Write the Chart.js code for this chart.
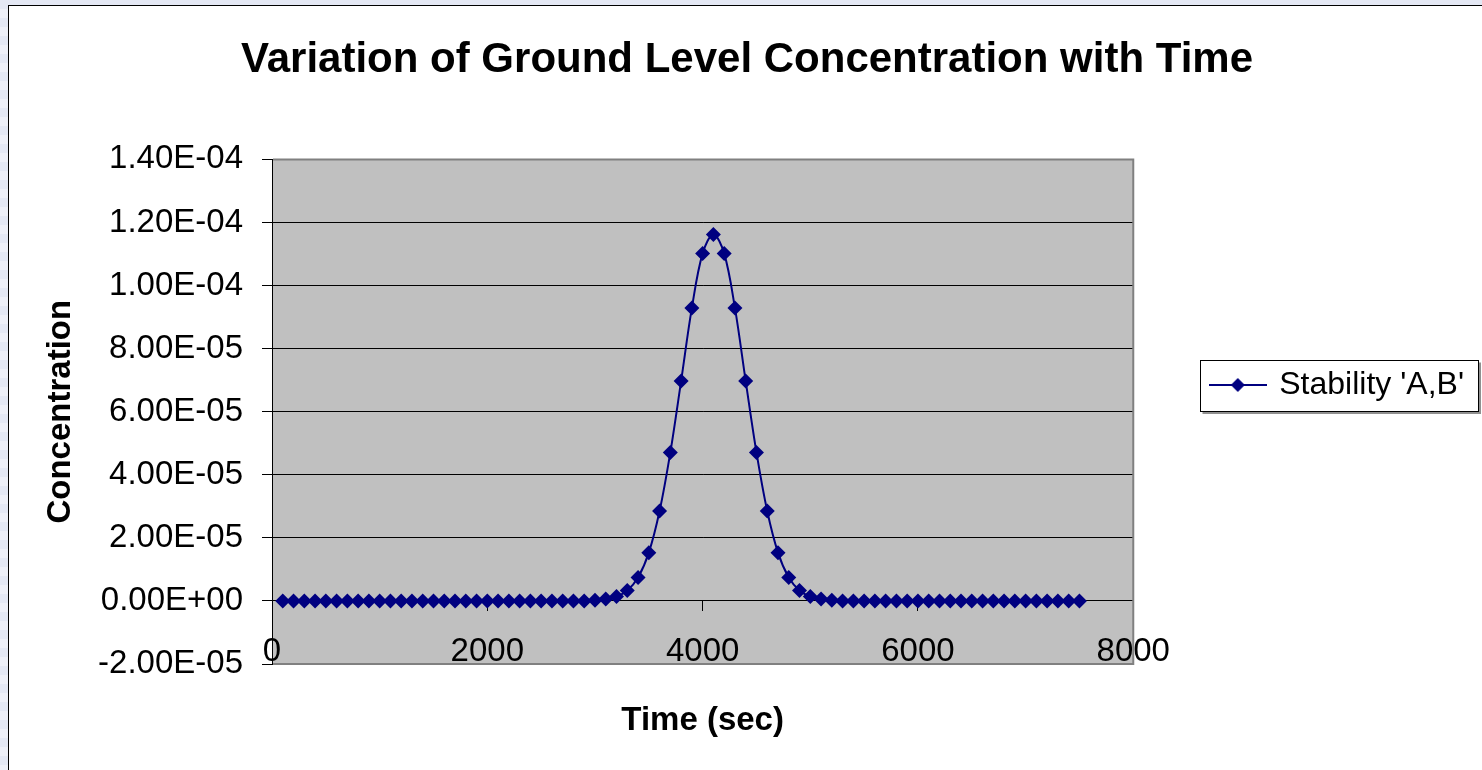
<!DOCTYPE html>
<html>
<head>
<meta charset="utf-8">
<title>Ground level concentration</title>
<script src="https://cdn.jsdelivr.net/npm/chart.js@4.4.1/dist/chart.umd.min.js"></script>
<style>
  html, body { margin: 0; padding: 0; }
  body {
    width: 1482px; height: 770px; overflow: hidden; position: relative;
    background: repeating-linear-gradient(180deg, #e4e8f4 0px, #e4e8f4 9px, #eef0f8 9px, #eef0f8 18px);
  }
  #frame {
    position: absolute; left: 8px; top: 5px; width: 1500px; height: 800px;
    background: #fff; border: 1px solid #000;
  }
  #grafico { position: absolute; left: 0; top: 0; }
</style>
</head>
<body>
<div id="frame"></div>
<canvas id="grafico" width="1482" height="770"></canvas>
<script>
// ======= DADOS =======
const tempos = [
  100, 200, 300, 400, 500, 600, 700, 800, 900, 1000,
  1100, 1200, 1300, 1400, 1500, 1600, 1700, 1800, 1900, 2000,
  2100, 2200, 2300, 2400, 2500, 2600, 2700, 2800, 2900, 3000,
  3100, 3200, 3300, 3400, 3500, 3600, 3700, 3800, 3900, 4000,
  4100, 4200, 4300, 4400, 4500, 4600, 4700, 4800, 4900, 5000,
  5100, 5200, 5300, 5400, 5500, 5600, 5700, 5800, 5900, 6000,
  6100, 6200, 6300, 6400, 6500, 6600, 6700, 6800, 6900, 7000,
  7100, 7200, 7300, 7400, 7500
];

const concentracao = [
  0, 0, 0, 0, 0, 0, 0, 0, 0, 0,
  0, 0, 0, 0, 0, 0, 0, 0, 0, 0,
  0, 0, 0, 0, 0, 0, 0, 0, 0, 2e-7,
  6e-7, 1.4e-6, 3.3e-6, 7.4e-6, 1.53e-5, 2.85e-5, 4.71e-5, 6.97e-5, 9.29e-5, 1.102e-4,
  1.162e-4, 1.102e-4, 9.29e-5, 6.97e-5, 4.71e-5, 2.85e-5, 1.53e-5, 7.4e-6, 3.3e-6, 1.4e-6,
  6e-7, 2e-7, 0, 0, 0, 0, 0, 0, 0, 0,
  0, 0, 0, 0, 0, 0, 0, 0, 0, 0,
  0, 0, 0, 0, 0
];

const ticksX = [0, 2000, 4000, 6000, 8000];
const ticksY = [-2e-5, 0, 2e-5, 4e-5, 6e-5, 8e-5, 1e-4, 1.2e-4, 1.4e-4];

const titulo = "Variation of Ground Level Concentration with Time";
const serie = "Stability 'A,B'";
const AZUL = "#000080";

Chart.defaults.font.family = "'Liberation Sans', Arial, sans-serif";
Chart.defaults.color = "#000";

// formato 1.40E-04 como no Excel
function formatoCientifico(v) {
  if (Math.abs(v) < 1e-12) v = 0;
  const [m, e] = v.toExponential(2).split("e");
  const n = parseInt(e, 10);
  return m + "E" + (n < 0 ? "-" : "+") + String(Math.abs(n)).padStart(2, "0");
}

// simbolo da legenda: linha com losango
const simbolo = document.createElement("canvas");
simbolo.width = 58;
simbolo.height = 18;
(() => {
  const c = simbolo.getContext("2d");
  c.strokeStyle = AZUL;
  c.lineWidth = 2;
  c.beginPath();
  c.moveTo(0, 9);
  c.lineTo(58, 9);
  c.stroke();
  c.fillStyle = AZUL;
  c.beginPath();
  c.moveTo(29, 2); c.lineTo(36, 9); c.lineTo(29, 16); c.lineTo(22, 9);
  c.closePath();
  c.fill();
})();

// fundo cinza e moldura da area do grafico, caixa da legenda
const molduras = {
  id: "molduras",
  beforeDraw(chart) {
    const { ctx, chartArea: a } = chart;
    ctx.save();
    ctx.fillStyle = "#c0c0c0";
    ctx.fillRect(a.left, a.top, a.right - a.left, a.bottom - a.top);
    ctx.restore();
  },
  beforeDatasetsDraw(chart) {
    const { ctx, chartArea: a } = chart;
    ctx.save();
    ctx.strokeStyle = "#808080";
    ctx.lineWidth = 2;
    ctx.beginPath();
    ctx.moveTo(a.left + 1, a.top);
    ctx.lineTo(a.right, a.top);
    ctx.lineTo(a.right, a.bottom);
    ctx.lineTo(a.left + 1, a.bottom);
    ctx.stroke();
    ctx.restore();
  },
  afterDraw(chart) {
    const hb = chart.legend && chart.legend.legendHitBoxes[0];
    if (!hb) return;
    const { ctx } = chart;
    const x0 = Math.round(hb.left - 12) + 0.5;
    const x1 = Math.round(hb.left + hb.width + 14) + 0.5;
    const cy = hb.top + hb.height / 2;
    const y0 = Math.round(cy - 25.5) + 0.5;
    const y1 = Math.round(cy + 25.5) + 0.5;
    ctx.save();
    ctx.strokeStyle = "#909090";
    ctx.lineWidth = 2;
    ctx.beginPath();
    ctx.moveTo(x1 + 1.5, y0 + 2);
    ctx.lineTo(x1 + 1.5, y1 + 1.5);
    ctx.lineTo(x0 + 2, y1 + 1.5);
    ctx.stroke();
    ctx.strokeStyle = "#000";
    ctx.lineWidth = 1;
    ctx.strokeRect(x0, y0, x1 - x0, y1 - y0);
    ctx.restore();
  }
};

const grafico = new Chart(document.getElementById("grafico"), {
  type: "line",
  data: {
    datasets: [{
      label: serie,
      data: tempos.map((t, i) => ({ x: t, y: concentracao[i] })),
      borderColor: AZUL,
      backgroundColor: AZUL,
      borderWidth: 2,
      tension: 0.35,
      pointStyle: "rectRot",
      pointRadius: 7.5,
      pointBorderWidth: 0,
      fill: false
    }]
  },
  options: {
    responsive: false,
    animation: false,
    devicePixelRatio: 1,
    layout: { padding: { left: 20, right: 8, top: 0, bottom: 0 } },
    plugins: {
      title: {
        display: true,
        text: titulo,
        font: { size: 42, weight: "bold" },
        padding: { top: 35, bottom: 74 }
      },
      legend: {
        position: "right",
        align: "center",
        labels: {
          usePointStyle: true,
          pointStyle: simbolo,
          pointStyleWidth: 51,
          padding: 79,
          font: { size: 32 }
        }
      },
      tooltip: { enabled: false }
    },
    scales: {
      x: {
        type: "linear",
        position: { y: 0 },
        min: 0,
        max: 8000,
        afterBuildTicks: s => { s.ticks = ticksX.map(v => ({ value: v })); },
        ticks: { font: { size: 33 }, padding: 21, maxRotation: 0, autoSkip: false, callback: v => String(v) },
        grid: { drawOnChartArea: false, drawTicks: true, tickLength: 10, color: "#000" },
        border: { color: "#000", width: 1 }
      },
      xTitulo: {
        type: "linear",
        axis: "x",
        position: "bottom",
        ticks: { display: false },
        grid: { display: false, drawTicks: false },
        border: { display: false },
        title: {
          display: true,
          text: "Time (sec)",
          font: { size: 33, weight: "bold" },
          padding: { top: 0, bottom: 29 }
        },
        afterFit: s => { s.height = 106; }
      },
      y: {
        type: "linear",
        position: "left",
        min: -2e-5,
        max: 1.4e-4,
        afterBuildTicks: s => { s.ticks = ticksY.map(v => ({ value: v })); },
        ticks: { font: { size: 33 }, padding: 19, callback: v => formatoCientifico(v) },
        grid: { color: "#000", lineWidth: 1, tickLength: 10 },
        border: { color: "#000", width: 1 },
        title: {
          display: true,
          text: "Concentration",
          font: { size: 33, weight: "bold" },
          padding: { top: 21, bottom: 0 }
        },
        afterFit: s => { s.width = 252; }
      }
    }
  },
  plugins: [molduras]
});
</script>
</body>
</html>
